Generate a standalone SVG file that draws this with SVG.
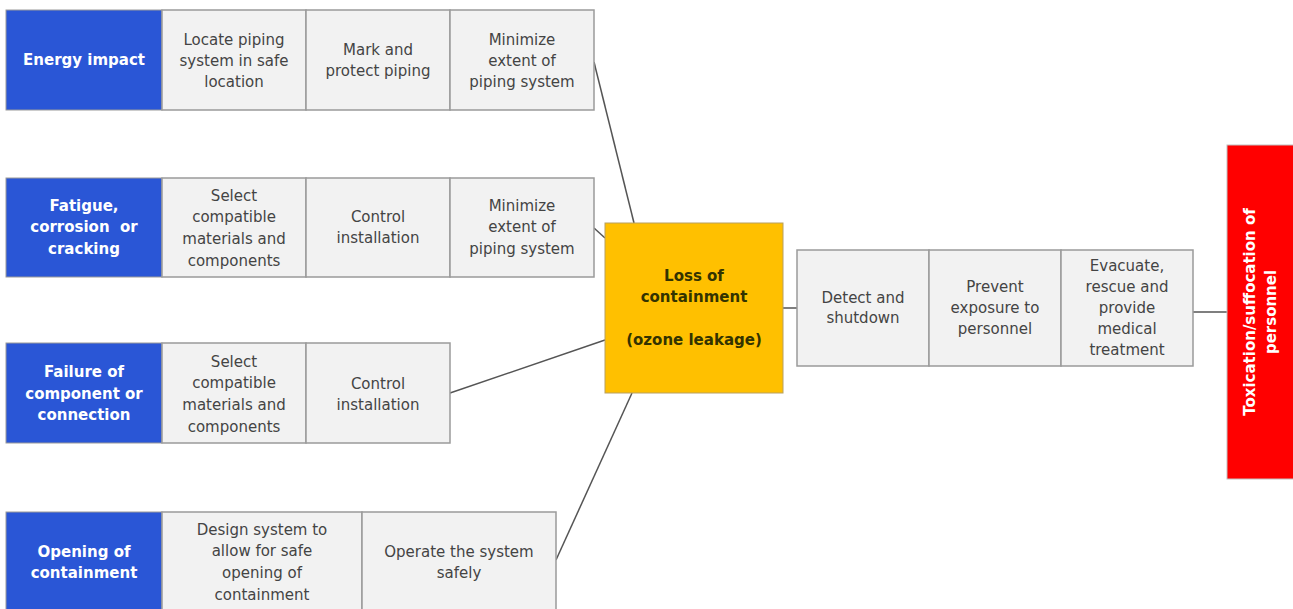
<svg xmlns="http://www.w3.org/2000/svg" width="1293" height="609" viewBox="0 0 1293 609">
<style>
.cause{fill:#2a56d6;stroke:#9a9a9a;stroke-width:1}
.cell{fill:#f2f2f2;stroke:#9a9a9a;stroke-width:1.5}
.top{fill:#ffc000;stroke:#b8a060;stroke-width:1}
.cons{fill:#ff0000;stroke:#c0c0c0;stroke-width:1}
text{font-family:"DejaVu Sans","Liberation Sans",sans-serif;font-size:15px;text-anchor:middle}
.w{fill:#ffffff;font-weight:bold}
.g{fill:#444444}
.k{fill:#333300;font-weight:bold}
.conn{stroke:#555555;stroke-width:1.5;fill:none}
</style>
<rect width="1293" height="609" fill="#ffffff"/>
<g id="connectors">
<line class="conn" x1="594" y1="62" x2="634" y2="223"/>
<line class="conn" x1="594" y1="228" x2="605" y2="238"/>
<line class="conn" x1="450" y1="393" x2="605" y2="340"/>
<line class="conn" x1="556" y1="560" x2="632" y2="393"/>
<line class="conn" x1="783" y1="308" x2="797" y2="308"/>
<line class="conn" x1="1193" y1="312" x2="1227" y2="312"/>
</g>
<g id="row1">
<rect class="cause" x="6" y="10" width="156" height="100"/>
<text class="w" x="84" y="65">Energy impact</text>
<rect class="cell" x="162" y="10" width="144" height="100"/>
<text class="g" x="234" y="45">Locate piping</text>
<text class="g" x="234" y="66">system in safe</text>
<text class="g" x="234" y="87">location</text>
<rect class="cell" x="306" y="10" width="144" height="100"/>
<text class="g" x="378" y="55">Mark and</text>
<text class="g" x="378" y="76">protect piping</text>
<rect class="cell" x="450" y="10" width="144" height="100"/>
<text class="g" x="522" y="45">Minimize</text>
<text class="g" x="522" y="66">extent of</text>
<text class="g" x="522" y="87">piping system</text>
</g>
<g id="row2">
<rect class="cause" x="6" y="178" width="156" height="99"/>
<text class="w" x="84" y="211">Fatigue,</text>
<text class="w" x="84" y="232" xml:space="preserve">corrosion  or</text>
<text class="w" x="84" y="254">cracking</text>
<rect class="cell" x="162" y="178" width="144" height="99"/>
<text class="g" x="234" y="201">Select</text>
<text class="g" x="234" y="222">compatible</text>
<text class="g" x="234" y="244">materials and</text>
<text class="g" x="234" y="266">components</text>
<rect class="cell" x="306" y="178" width="144" height="99"/>
<text class="g" x="378" y="222">Control</text>
<text class="g" x="378" y="243">installation</text>
<rect class="cell" x="450" y="178" width="144" height="99"/>
<text class="g" x="522" y="211">Minimize</text>
<text class="g" x="522" y="232">extent of</text>
<text class="g" x="522" y="254">piping system</text>
</g>
<g id="row3">
<rect class="cause" x="6" y="343" width="156" height="100"/>
<text class="w" x="84" y="377">Failure of</text>
<text class="w" x="84" y="399">component or</text>
<text class="w" x="84" y="420">connection</text>
<rect class="cell" x="162" y="343" width="144" height="100"/>
<text class="g" x="234" y="367">Select</text>
<text class="g" x="234" y="388">compatible</text>
<text class="g" x="234" y="410">materials and</text>
<text class="g" x="234" y="432">components</text>
<rect class="cell" x="306" y="343" width="144" height="100"/>
<text class="g" x="378" y="389">Control</text>
<text class="g" x="378" y="410">installation</text>
</g>
<g id="row4">
<rect class="cause" x="6" y="512" width="156" height="100"/>
<text class="w" x="84" y="557">Opening of</text>
<text class="w" x="84" y="578">containment</text>
<rect class="cell" x="162" y="512" width="200" height="100"/>
<text class="g" x="262" y="535">Design system to</text>
<text class="g" x="262" y="556">allow for safe</text>
<text class="g" x="262" y="578">opening of</text>
<text class="g" x="262" y="600">containment</text>
<rect class="cell" x="362" y="512" width="194" height="100"/>
<text class="g" x="459" y="557">Operate the system</text>
<text class="g" x="459" y="578">safely</text>
</g>
<g id="top-event">
<rect class="top" x="605" y="223" width="178" height="170"/>
<text class="k" x="694" y="281">Loss of</text>
<text class="k" x="694" y="302">containment</text>
<text class="k" x="694" y="345">(ozone leakage)</text>
</g>
<g id="barriers-right">
<rect class="cell" x="797" y="250" width="132" height="116"/>
<text class="g" x="863" y="303">Detect and</text>
<text class="g" x="863" y="323">shutdown</text>
<rect class="cell" x="929" y="250" width="132" height="116"/>
<text class="g" x="995" y="292">Prevent</text>
<text class="g" x="995" y="313">exposure to</text>
<text class="g" x="995" y="334">personnel</text>
<rect class="cell" x="1061" y="250" width="132" height="116"/>
<text class="g" x="1127" y="271">Evacuate,</text>
<text class="g" x="1127" y="292">rescue and</text>
<text class="g" x="1127" y="313">provide</text>
<text class="g" x="1127" y="334">medical</text>
<text class="g" x="1127" y="355">treatment</text>
</g>
<g id="consequence">
<rect class="cons" x="1227" y="145" width="70" height="334"/>
<text class="w" transform="translate(1255,312) rotate(-90)">Toxication/suffocation of</text>
<text class="w" transform="translate(1276,312) rotate(-90)">personnel</text>
</g>
</svg>
